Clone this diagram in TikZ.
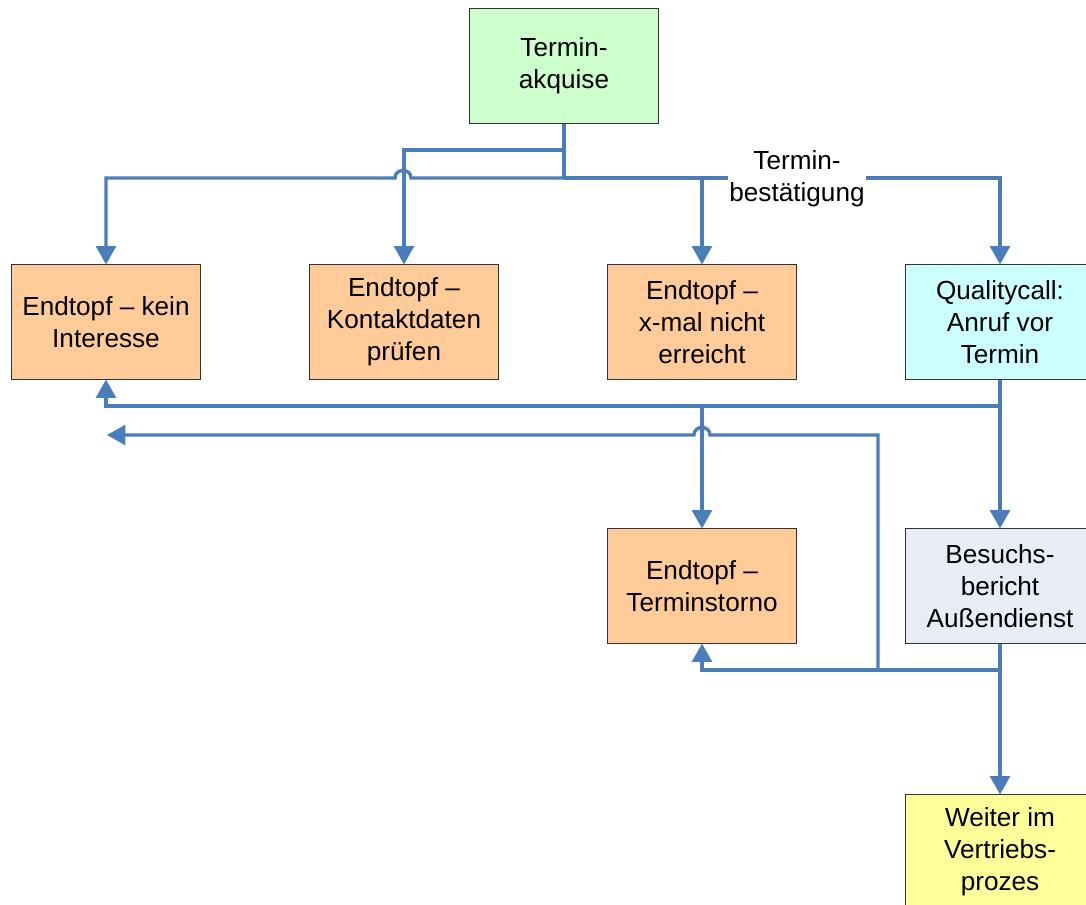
\documentclass[tikz,border=0pt]{standalone}
\usepackage{fontspec}
\setmainfont{Liberation Sans}
\usetikzlibrary{arrows.meta}

\definecolor{flowblue}{HTML}{4A7EBB}
\definecolor{akqgreen}{HTML}{CCFFCC}
\definecolor{topforange}{HTML}{FFCC99}
\definecolor{callcyan}{HTML}{CCFFFF}
\definecolor{berichtblue}{HTML}{E7ECF7}
\definecolor{weiteryellow}{HTML}{FFFF99}

\begin{document}
\begin{tikzpicture}[x=0.025cm,y=-0.025cm,
    box/.style={draw=black!80, line width=0.7pt, minimum width=4.725cm,
      minimum height=2.85cm, align=center, inner sep=2pt,
      font=\fontsize{18.6}{22.7}\selectfont},
    flow/.style={draw=flowblue, line width=2.4pt},
    arr/.style={flow, -{Triangle[width=14pt,length=13pt]}}]

      \useasboundingbox (0,0) rectangle (1086,905);
      \clip (0,0) rectangle (1086,905);

      % the boxes, first row, second row, last one
      \node[box, fill=akqgreen] (akquise) at (564,66) {Termin-\\akquise};

      \node[box, fill=topforange] (kein) at (106,322) {Endtopf -- kein\\Interesse};
      \node[box, fill=topforange] (kontakt) at (404,322) {Endtopf --\\Kontaktdaten\\prüfen};
      \node[box, fill=topforange] (xmal) at (702,322) {Endtopf --\\x-mal nicht\\erreicht};
      \node[box, fill=callcyan] (quality) at (1000,322) {Qualitycall:\\Anruf vor\\Termin};

      \node[box, fill=topforange] (storno) at (702,586) {Endtopf --\\Terminstorno};
      \node[box, fill=berichtblue] (besuch) at (1000,586) {Besuchs-\\bericht\\Außendienst};

      \node[box, fill=weiteryellow] (weiter) at (1000,852) {Weiter im\\Vertriebs-\\prozes};

      % junctions of the lines
      \coordinate (akqfork) at (564,150);
      \coordinate (akqbus) at (564,178);
      \coordinate (xmalfork) at (702,178);
      \coordinate (qcbus) at (1000,406);
      \coordinate (stornofork) at (702,406);
      \coordinate (bbbus) at (1000,670);
      \coordinate (rueck) at (878,670);
      \coordinate (ausgang) at (107,435);

      % from Terminakquise
      \draw[flow] (akquise.south) -- (akqbus);
      \draw[arr] (akqfork) -| (kontakt.north);
      \draw[arr] (akqbus) -- (411,178) .. controls (411,168) and (395,168) .. (395,178)
        -| (kein.north);
      \draw[arr] (akqbus) -| (quality.north);
      \draw[arr] (xmalfork) -- (xmal.north);
      \node[fill=white, align=center, inner sep=1pt,
        font=\fontsize{18.6}{22.7}\selectfont] (bestaet) at (797,179)
        {Termin-\\bestätigung};

      % from Qualitycall
      \draw[arr] (quality.south) -- (besuch.north);
      \draw[arr] (qcbus) -| (kein.south);
      \draw[arr] (stornofork) -- (storno.north);

      % from Besuchsbericht
      \draw[arr] (besuch.south) -- (weiter.north);
      \draw[arr] (bbbus) -| (storno.south);
      \draw[arr] (rueck) |- (710,435) .. controls (710,425) and (694,425) .. (694,435)
        -- (ausgang);

\end{tikzpicture}
\end{document}
